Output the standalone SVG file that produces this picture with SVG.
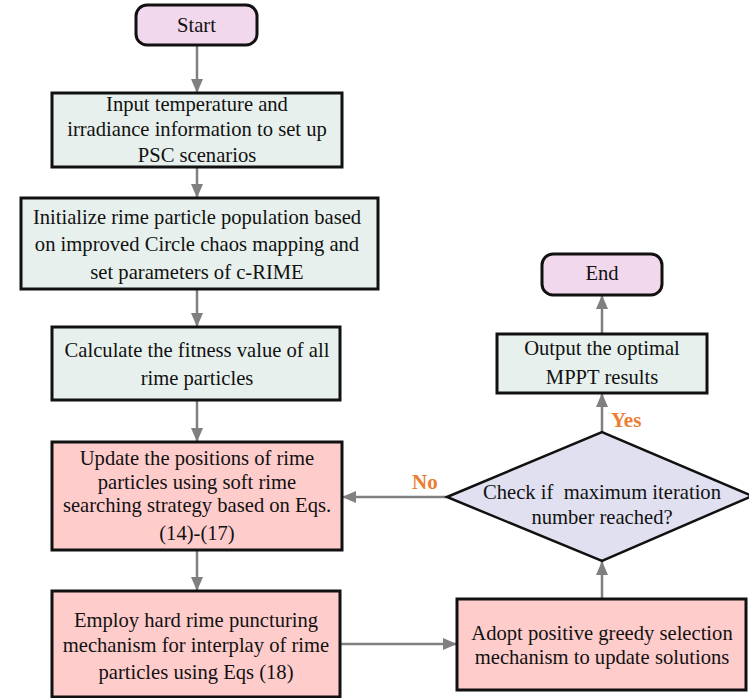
<svg xmlns="http://www.w3.org/2000/svg" width="749" height="698" viewBox="0 0 749 698">
<defs>
<style>
.t{font-family:"Liberation Serif","Times New Roman",serif;font-size:20.6px;fill:#111;text-anchor:middle}
.term{fill:#f2d8ec;stroke:#111;stroke-width:3}
.g{fill:#e7f0ec;stroke:#111;stroke-width:3}
.r{fill:#ffcccc;stroke:#111;stroke-width:3}
.d{fill:#e0e0f0;stroke:#111;stroke-width:2.5}
.c{stroke:#808080;stroke-width:2.5;fill:none;marker-end:url(#ah)}
.lab{font-family:"Liberation Serif","Times New Roman",serif;font-size:21px;font-weight:bold;fill:#ed7d31}
</style>
<marker id="ah" markerUnits="userSpaceOnUse" markerWidth="14" markerHeight="16" refX="14" refY="6" orient="auto">
<path d="M0,0 L14,6 L0,12 Z" fill="#808080"/>
</marker>
</defs>
<g id="connectors">
<line class="c" x1="197" y1="45" x2="197" y2="93"/>
<line class="c" x1="197" y1="167" x2="197" y2="198"/>
<line class="c" x1="197" y1="289" x2="197" y2="327"/>
<line class="c" x1="197" y1="400" x2="197" y2="442"/>
<line class="c" x1="197" y1="550" x2="197" y2="591"/>
<line class="c" x1="340" y1="644" x2="457" y2="644"/>
<line class="c" x1="602" y1="599" x2="602" y2="561"/>
<line class="c" x1="602" y1="432" x2="602" y2="393"/>
<line class="c" x1="602" y1="334" x2="602" y2="295"/>
<line class="c" x1="447" y1="497" x2="342" y2="497"/>
<text class="lab" x="611" y="427">Yes</text>
<text class="lab" x="412" y="489">No</text>
</g>
<g id="start">
<rect class="term" x="136" y="5" width="121" height="40" rx="11"/>
<text class="t" x="196.5" y="32">Start</text>
</g>
<g id="input">
<rect class="g" x="52" y="93" width="290" height="74"/>
<text class="t" x="197" y="111">Input temperature and</text>
<text class="t" x="197" y="136">irradiance information to set up</text>
<text class="t" x="197" y="162">PSC scenarios</text>
</g>
<g id="init">
<rect class="g" x="21" y="198" width="357" height="91"/>
<text class="t" x="197" y="224">Initialize rime particle population based</text>
<text class="t" x="197" y="251">on improved Circle chaos mapping and</text>
<text class="t" x="197" y="279">set parameters of c-RIME</text>
</g>
<g id="calc">
<rect class="g" x="52" y="327" width="288" height="73"/>
<text class="t" x="197" y="357">Calculate the fitness value of all</text>
<text class="t" x="197" y="385">rime particles</text>
</g>
<g id="update">
<rect class="r" x="52" y="442" width="290" height="108"/>
<text class="t" x="197" y="465">Update the positions of rime</text>
<text class="t" x="197" y="489">particles using soft rime</text>
<text class="t" x="197" y="512">searching strategy based on Eqs.</text>
<text class="t" x="197" y="540">(14)-(17)</text>
</g>
<g id="employ">
<rect class="r" x="52" y="591" width="288" height="106"/>
<text class="t" x="196" y="627">Employ hard rime puncturing</text>
<text class="t" x="196" y="652">mechanism for interplay of rime</text>
<text class="t" x="196" y="679">particles using Eqs (18)</text>
</g>
<g id="adopt">
<rect class="r" x="457" y="599" width="289" height="91"/>
<text class="t" x="602" y="640">Adopt positive greedy selection</text>
<text class="t" x="602" y="664">mechanism to update solutions</text>
</g>
<g id="check">
<polygon class="d" points="447,497 602,432 752,496 602,561"/>
<text class="t" x="602" y="499" xml:space="preserve">Check if  maximum iteration</text>
<text class="t" x="602" y="524">number reached?</text>
</g>
<g id="output">
<rect class="g" x="497" y="334" width="210" height="59"/>
<text class="t" x="602" y="355">Output the optimal</text>
<text class="t" x="602" y="384">MPPT results</text>
</g>
<g id="end">
<rect class="term" x="542" y="254" width="120" height="41" rx="11"/>
<text class="t" x="602" y="280">End</text>
</g>
</svg>
